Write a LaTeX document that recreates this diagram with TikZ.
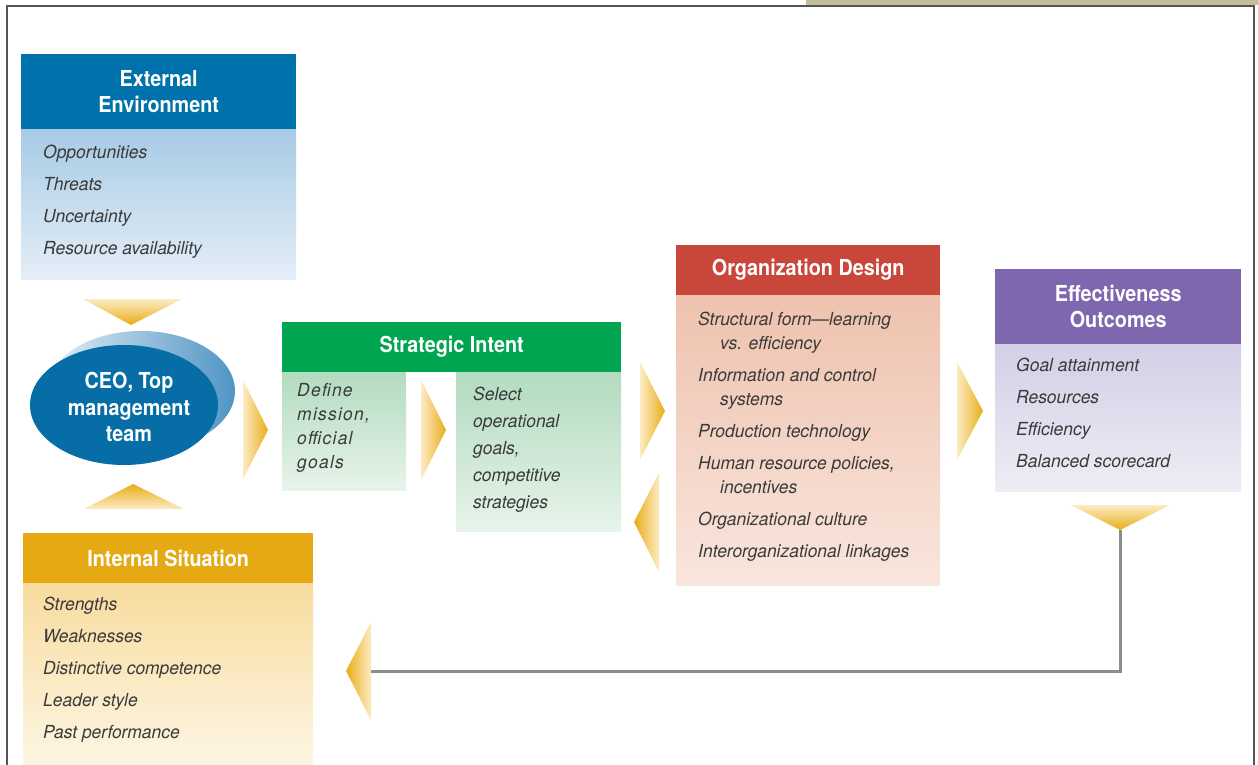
\documentclass[tikz,border=0pt]{standalone}
\usepackage{fontspec}
\setmainfont{TeX Gyre Heros}[FakeStretch=0.97]
\newfontfamily\headfont{TeX Gyre Heros}[FakeStretch=0.9]
\usetikzlibrary{shapes.geometric,positioning}

\definecolor{extblue}{HTML}{0072AB}
\definecolor{extlight}{HTML}{A8CBE5}
\definecolor{extpale}{HTML}{E4EEF7}
\definecolor{intgreen}{HTML}{00A551}
\definecolor{greenlight}{HTML}{B3DBBF}
\definecolor{greenpale}{HTML}{E7F4EA}
\definecolor{orgred}{HTML}{C9473A}
\definecolor{redlight}{HTML}{EEC2AE}
\definecolor{redpale}{HTML}{F9E6DD}
\definecolor{effpurple}{HTML}{7E67AE}
\definecolor{purplelight}{HTML}{D3CFE6}
\definecolor{purplepale}{HTML}{EEEDF5}
\definecolor{sitgold}{HTML}{E5A913}
\definecolor{goldlight}{HTML}{F8DC9E}
\definecolor{goldpale}{HTML}{FDF6E4}
\definecolor{tipgold}{HTML}{E8AD16}
\definecolor{tippale}{HTML}{FCEBC4}
\definecolor{ceoblue}{HTML}{066DA6}
\definecolor{shadeblue}{HTML}{4F95C4}
\definecolor{bodytext}{HTML}{3A3A3A}
\definecolor{framegray}{HTML}{555555}
\definecolor{tan}{HTML}{C4BF9B}

\begin{document}
\begin{tikzpicture}[x=1pt,y=-1pt]
            \tikzstyle{every node}+=[inner sep=0pt]
            \tikzstyle{head}=[anchor=north west, text=white, align=center, font=\headfont\bfseries\fontsize{22}{26}\selectfont]
            \tikzstyle{panel}=[below=0pt of #1]
            \tikzstyle{items}=[anchor=north west, align=left, text=bodytext, font=\itshape\fontsize{18}{32}\selectfont]
            \tikzstyle{feedback}=[draw=black!45, line width=3pt]
            \useasboundingbox (0,0) rectangle (1258,765);
            % frame
            \fill [tan] (806,0) rectangle (1258,5);
            \draw [framegray, line width=1.5pt] (7,765) -- (7,6) -- (1254,6) -- (1254,765);
            % external environment
            \node [head, fill=extblue, minimum width=275pt, minimum height=75pt] (exthead) at (21,54) {External\\Environment};
            \node [panel=exthead, top color=extlight, bottom color=extpale, minimum width=275pt, minimum height=150pt] (extbody) {};
            \node [items] (extlist) at ([shift={(22,15)}]extbody.north west) {Opportunities\\Threats\\Uncertainty\\Resource availability};
            % ceo
            \node [ellipse, left color=extpale, right color=shadeblue, minimum width=188pt, minimum height=120pt] (ceoshade) at (141,391) {};
            \node [ellipse, fill=ceoblue, minimum width=188pt, minimum height=120pt] (ceo) at (124,405) {};
            \node [text=white, align=center, font=\headfont\bfseries\fontsize{22}{26.5}\selectfont] (ceotext) at ([shift={(5,2)}]ceo.center) {CEO, Top\\management\\team};
            \shade [top color=tippale, bottom color=tipgold] (83,299) -- (182,299) -- (131,325) -- cycle;
            \shade [top color=tipgold, bottom color=tippale] (133,484) -- (184,509) -- (84,509) -- cycle;
            % internal situation
            \node [head, fill=sitgold, minimum width=290pt, minimum height=50pt] (sithead) at (23,533) {Internal Situation};
            \node [panel=sithead, top color=goldlight, bottom color=goldpale, minimum width=290pt, minimum height=182pt] (sitbody) {};
            \node [items] (sitlist) at ([shift={(20,13)}]sitbody.north west) {Strengths\\Weaknesses\\Distinctive competence\\Leader style\\Past performance};
            % strategic intent
            \shade [left color=tippale, right color=tipgold] (243,380) -- (268,430) -- (243,479) -- cycle;
            \node [head, fill=intgreen, minimum width=339pt, minimum height=50pt] (inthead) at (282,322) {Strategic Intent};
            \node [anchor=north west, top color=greenlight, bottom color=greenpale, minimum width=124pt, minimum height=118pt] (missionbody) at (inthead.south west) {};
            \node [anchor=north east, top color=greenlight, bottom color=greenpale, minimum width=165pt, minimum height=159pt] (goalbody) at (inthead.south east) {};
            \node [items, font=\itshape\fontsize{18}{24}\selectfont\addfontfeature{LetterSpace=7}] (missionlist) at ([shift={(15,11)}]missionbody.north west) {Define\\mission,\\official\\goals};
            \node [items, font=\itshape\fontsize{18}{27}\selectfont] (goallist) at ([shift={(17,14)}]goalbody.north west) {Select\\operational\\goals,\\competitive\\strategies};
            \shade [left color=tippale, right color=tipgold] (421,380) -- (446,430) -- (421,480) -- cycle;
            % organization design
            \shade [left color=tippale, right color=tipgold] (640,362) -- (665,411) -- (640,460) -- cycle;
            \shade [left color=tipgold, right color=tippale] (634,522) -- (659,473) -- (659,572) -- cycle;
            \node [head, fill=orgred, minimum width=264pt, minimum height=50pt] (orghead) at (676,245) {Organization Design};
            \node [panel=orghead, top color=redlight, bottom color=redpale, minimum width=264pt, minimum height=290pt] (orgbody) {};
            \node [items, font=\itshape\fontsize{18}{24}\selectfont] (orglist) at ([shift={(22,16)}]orgbody.north west) {Structural form---learning\\\hspace{22pt}vs. efficiency\\[8pt]Information and control\\\hspace{22pt}systems\\[8pt]Production technology\\[8pt]Human resource policies,\\\hspace{22pt}incentives\\[8pt]Organizational culture\\[8pt]Interorganizational linkages};
            % effectiveness outcomes
            \shade [left color=tippale, right color=tipgold] (957,362) -- (983,411) -- (957,460) -- cycle;
            \node [head, fill=effpurple, minimum width=246pt, minimum height=75pt] (effhead) at (995,269) {Effectiveness\\Outcomes};
            \node [panel=effhead, top color=purplelight, bottom color=purplepale, minimum width=246pt, minimum height=147pt] (effbody) {};
            \node [items] (efflist) at ([shift={(21,13)}]effbody.north west) {Goal attainment\\Resources\\Efficiency\\Balanced scorecard};
            % feedback loop
            \shade [top color=tippale, bottom color=tipgold] (1071,505) -- (1170,505) -- (1120,530) -- cycle;
            \coordinate (fbstart) at (1120,530);
            \coordinate (fbend) at (371,671);
            \draw [feedback] (fbstart) |- (fbend);
            \shade [left color=tipgold, right color=tippale] (346,671) -- (371,622) -- (371,720) -- cycle;
\end{tikzpicture}
\end{document}
